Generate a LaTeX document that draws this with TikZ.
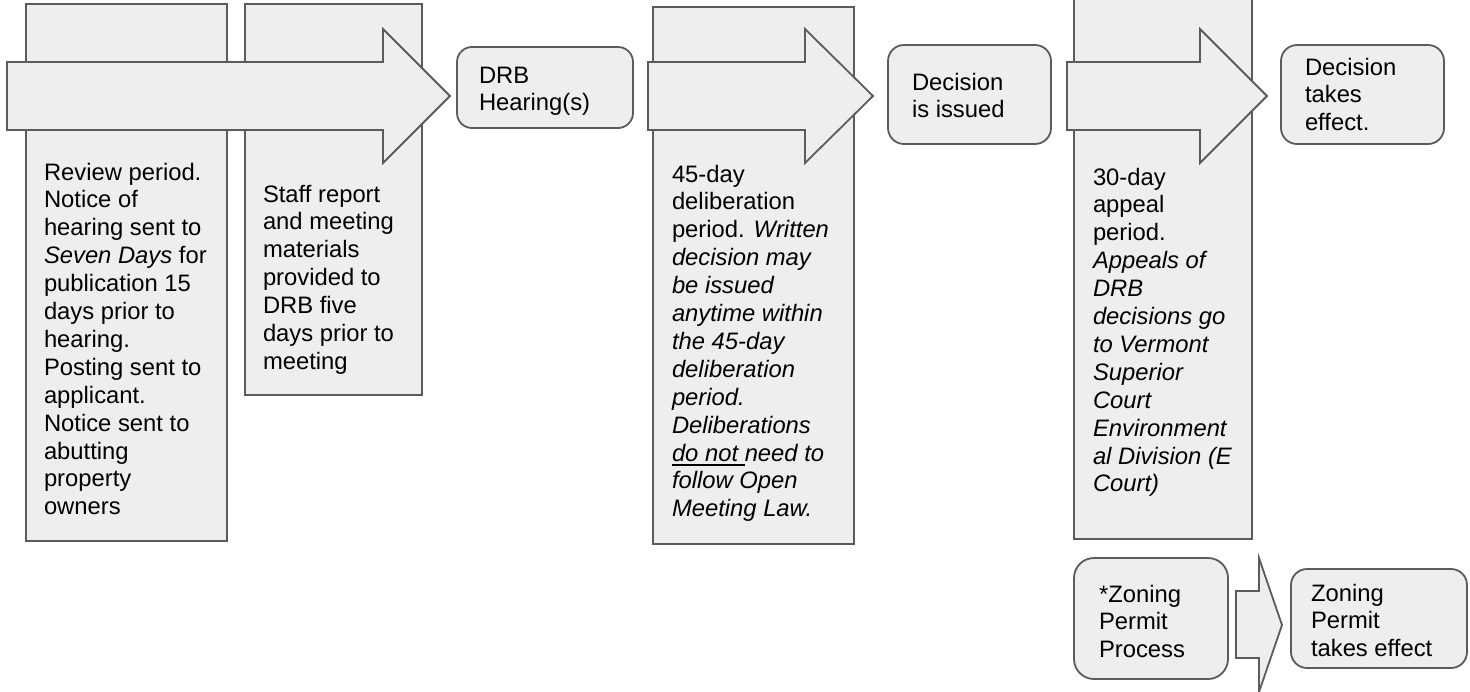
\documentclass[tikz,border=0pt]{standalone}
\usepackage{fontspec}
\setmainfont{Liberation Sans}
\definecolor{panelgray}{HTML}{EEEEEE}
\definecolor{linegray}{HTML}{5B5B5B}
% underline with a fixed offset and thickness
\newcommand\ulwords[1]{\setbox0\hbox{#1}\rlap{\rule[-4.6pt]{\wd0}{1.9pt}}\box0}
% text block whose first baseline sits on the node's base anchor
\newcommand\txtblock[1]{\parbox[t]{220pt}{\raggedright #1}}
\begin{document}
\begin{tikzpicture}[x=1pt,y=-1pt,
  panel/.style={draw=linegray, fill=panelgray, line width=1.8pt},
  stepbox/.style={panel, rectangle, inner sep=0pt, outer sep=0pt, anchor=north west},
  roundbox/.style={stepbox, rounded corners=15pt},
  flowarrow/.style={panel, line join=miter},
  label/.style={anchor=base west, inner sep=0pt, outer sep=0pt,
    font=\fontsize{23.8}{27.9}\selectfont},
]
\useasboundingbox (0,0) rectangle (1470,691);
\clip (0,0) rectangle (1470,691);

% review and staff-report panels behind the first arrow
\node[stepbox, minimum width=201pt, minimum height=537pt] (review) at (26,4) {};
\node[stepbox, minimum width=177pt, minimum height=391pt] (staff) at (245,4) {};
\draw[flowarrow] (7,62) -- (383,62) -- (383,29) -- (450,96) -- (383,163) -- (383,130) -- (7,130) -- cycle;
\node[label] (reviewtxt) at (44,180) {\txtblock{Review period.\\ Notice of\\ hearing sent to\\ \textit{Seven Days} for\\ publication 15\\ days prior to\\ hearing.\\ Posting sent to\\ applicant.\\ Notice sent to\\ abutting\\ property\\ owners}};
\node[label] (stafftxt) at (263,202) {\txtblock{Staff report\\ and meeting\\ materials\\ provided to\\ DRB five\\ days prior to\\ meeting}};

% hearing
\node[roundbox, minimum width=176pt, minimum height=81pt] (hearing) at (457,47) {};
\node[label] (hearingtxt) at (479,83) {\txtblock{DRB\\ Hearing(s)}};

% deliberation period
\node[stepbox, minimum width=201pt, minimum height=537pt] (deliberation) at (653,7) {};
\draw[flowarrow] (648,62) -- (805,62) -- (805,29) -- (873,96) -- (805,163) -- (805,130) -- (648,130) -- cycle;
\node[label] (deliberationtxt) at (672,182) {\txtblock{45-day\\ deliberation\\ period. \textit{Written}\\ \textit{decision may}\\ \textit{be issued}\\ \textit{anytime within}\\ \textit{the 45-day}\\ \textit{deliberation}\\ \textit{period.}\\ \textit{Deliberations}\\ \textit{\ulwords{do not }need to}\\ \textit{follow Open}\\ \textit{Meeting Law.}}};

% decision issued
\node[roundbox, minimum width=163pt, minimum height=99pt, rounded corners=16pt] (issued) at (888,45) {};
\node[label] (issuedtxt) at (912,90) {\txtblock{Decision\\ is issued}};

% appeal period
\node[stepbox, minimum width=178pt, minimum height=549pt] (appeal) at (1074,-10) {};
\draw[flowarrow] (1067,62) -- (1200,62) -- (1200,29) -- (1267,96) -- (1200,163) -- (1200,130) -- (1067,130) -- cycle;
\node[label] (appealtxt) at (1093,185) {\txtblock{30-day\\ appeal\\ period.\\ \textit{Appeals of}\\ \textit{DRB}\\ \textit{decisions go}\\ \textit{to Vermont}\\ \textit{Superior}\\ \textit{Court}\\ \textit{Environment}\\ \textit{al Division (E}\\ \textit{Court)}}};

% decision takes effect
\node[roundbox, minimum width=163pt, minimum height=99pt, rounded corners=16pt] (effect) at (1281,45) {};
\node[label] (effecttxt) at (1305,75) {\txtblock{Decision\\ takes\\ effect.}};

% zoning permit
\node[roundbox, minimum width=154pt, minimum height=121pt, rounded corners=20pt] (zoning) at (1074,558) {};
\node[label] (zoningtxt) at (1099,602) {\txtblock{*Zoning\\ Permit\\ Process}};
\draw[flowarrow] (1236,591) -- (1259,591) -- (1259,558) -- (1282,625) -- (1259,692) -- (1259,658) -- (1236,658) -- cycle;
\node[roundbox, minimum width=176pt, minimum height=99pt, rounded corners=16pt] (permit) at (1291,569) {};
\node[label] (permittxt) at (1311,601) {\txtblock{Zoning\\ Permit\\ takes effect}};
\end{tikzpicture}
\end{document}
